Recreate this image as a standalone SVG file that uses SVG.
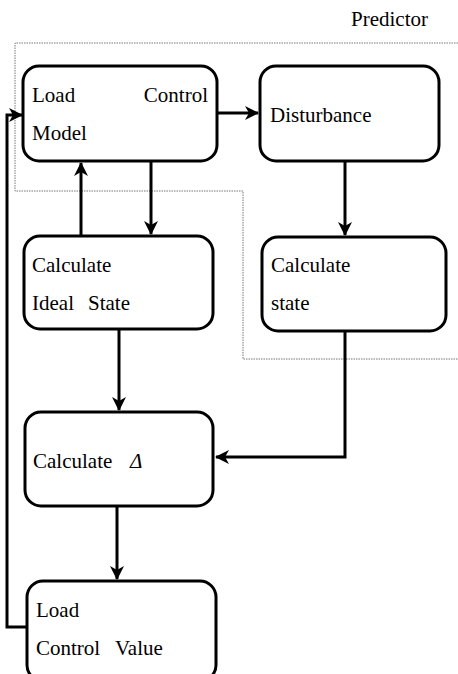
<svg xmlns="http://www.w3.org/2000/svg" width="458" height="674" viewBox="0 0 458 674">
<style>
.box{fill:#fff;stroke:#000;stroke-width:3}
.t{font-family:'Liberation Serif','DejaVu Serif',serif;font-size:21px;fill:#000}
.c{fill:none;stroke:#000;stroke-width:3}
.dot{fill:none;stroke:#777;stroke-width:1;stroke-dasharray:1.5 1}
</style>
<defs>
<marker id="ah" markerUnits="userSpaceOnUse" markerWidth="16" markerHeight="16" refX="13" refY="7" orient="auto">
<path d="M0,0 L14,7 L0,14 L4,7 z" fill="#000"/>
</marker>
</defs>
<rect width="458" height="674" fill="#fff"/>
<text class="t" x="351" y="26" font-family="Liberation Serif, serif">Predictor</text>
<path class="dot" d="M458,43 L15,43 L15,191 L243,191 L243,359 L458,359"/>
<g id="connectors">
<path class="c" d="M217,113 L258,113" marker-end="url(#ah)"/>
<path class="c" d="M81,236 L81,163" marker-end="url(#ah)"/>
<path class="c" d="M151,161 L151,234" marker-end="url(#ah)"/>
<path class="c" d="M345,161 L345,235" marker-end="url(#ah)"/>
<path class="c" d="M119,329 L119,410" marker-end="url(#ah)"/>
<path class="c" d="M345,331 L345,457 L216,457" marker-end="url(#ah)"/>
<path class="c" d="M117,506 L117,579" marker-end="url(#ah)"/>
<path class="c" d="M27,627 L7,627 L7,115 L22,115" marker-end="url(#ah)"/>
</g>
<g id="loadControlModel">
<rect class="box" x="23" y="66" width="194" height="95" rx="16"/>
<text class="t" x="32" y="102">Load</text>
<text class="t" x="208" y="102" text-anchor="end">Control</text>
<text class="t" x="32" y="140">Model</text>
</g>
<g id="disturbance">
<rect class="box" x="260" y="66" width="179" height="95" rx="16"/>
<text class="t" x="270" y="122">Disturbance</text>
</g>
<g id="calcIdealState">
<rect class="box" x="24" y="236" width="189" height="93" rx="16"/>
<text class="t" x="32" y="272">Calculate</text>
<text class="t" x="32" y="310">Ideal<tspan x="88">State</tspan></text>
</g>
<g id="calcState">
<rect class="box" x="262" y="237" width="184" height="94" rx="16"/>
<text class="t" x="271" y="272">Calculate</text>
<text class="t" x="271" y="310">state</text>
</g>
<g id="calcDelta">
<rect class="box" x="25" y="412" width="188" height="94" rx="16"/>
<text class="t" x="33" y="468">Calculate<tspan x="130" font-style="italic">Δ</tspan></text>
</g>
<g id="loadControlValue">
<rect class="box" x="27" y="581" width="189" height="100" rx="16"/>
<text class="t" x="36" y="617">Load</text>
<text class="t" x="36" y="655">Control<tspan x="115">Value</tspan></text>
</g>
</svg>
